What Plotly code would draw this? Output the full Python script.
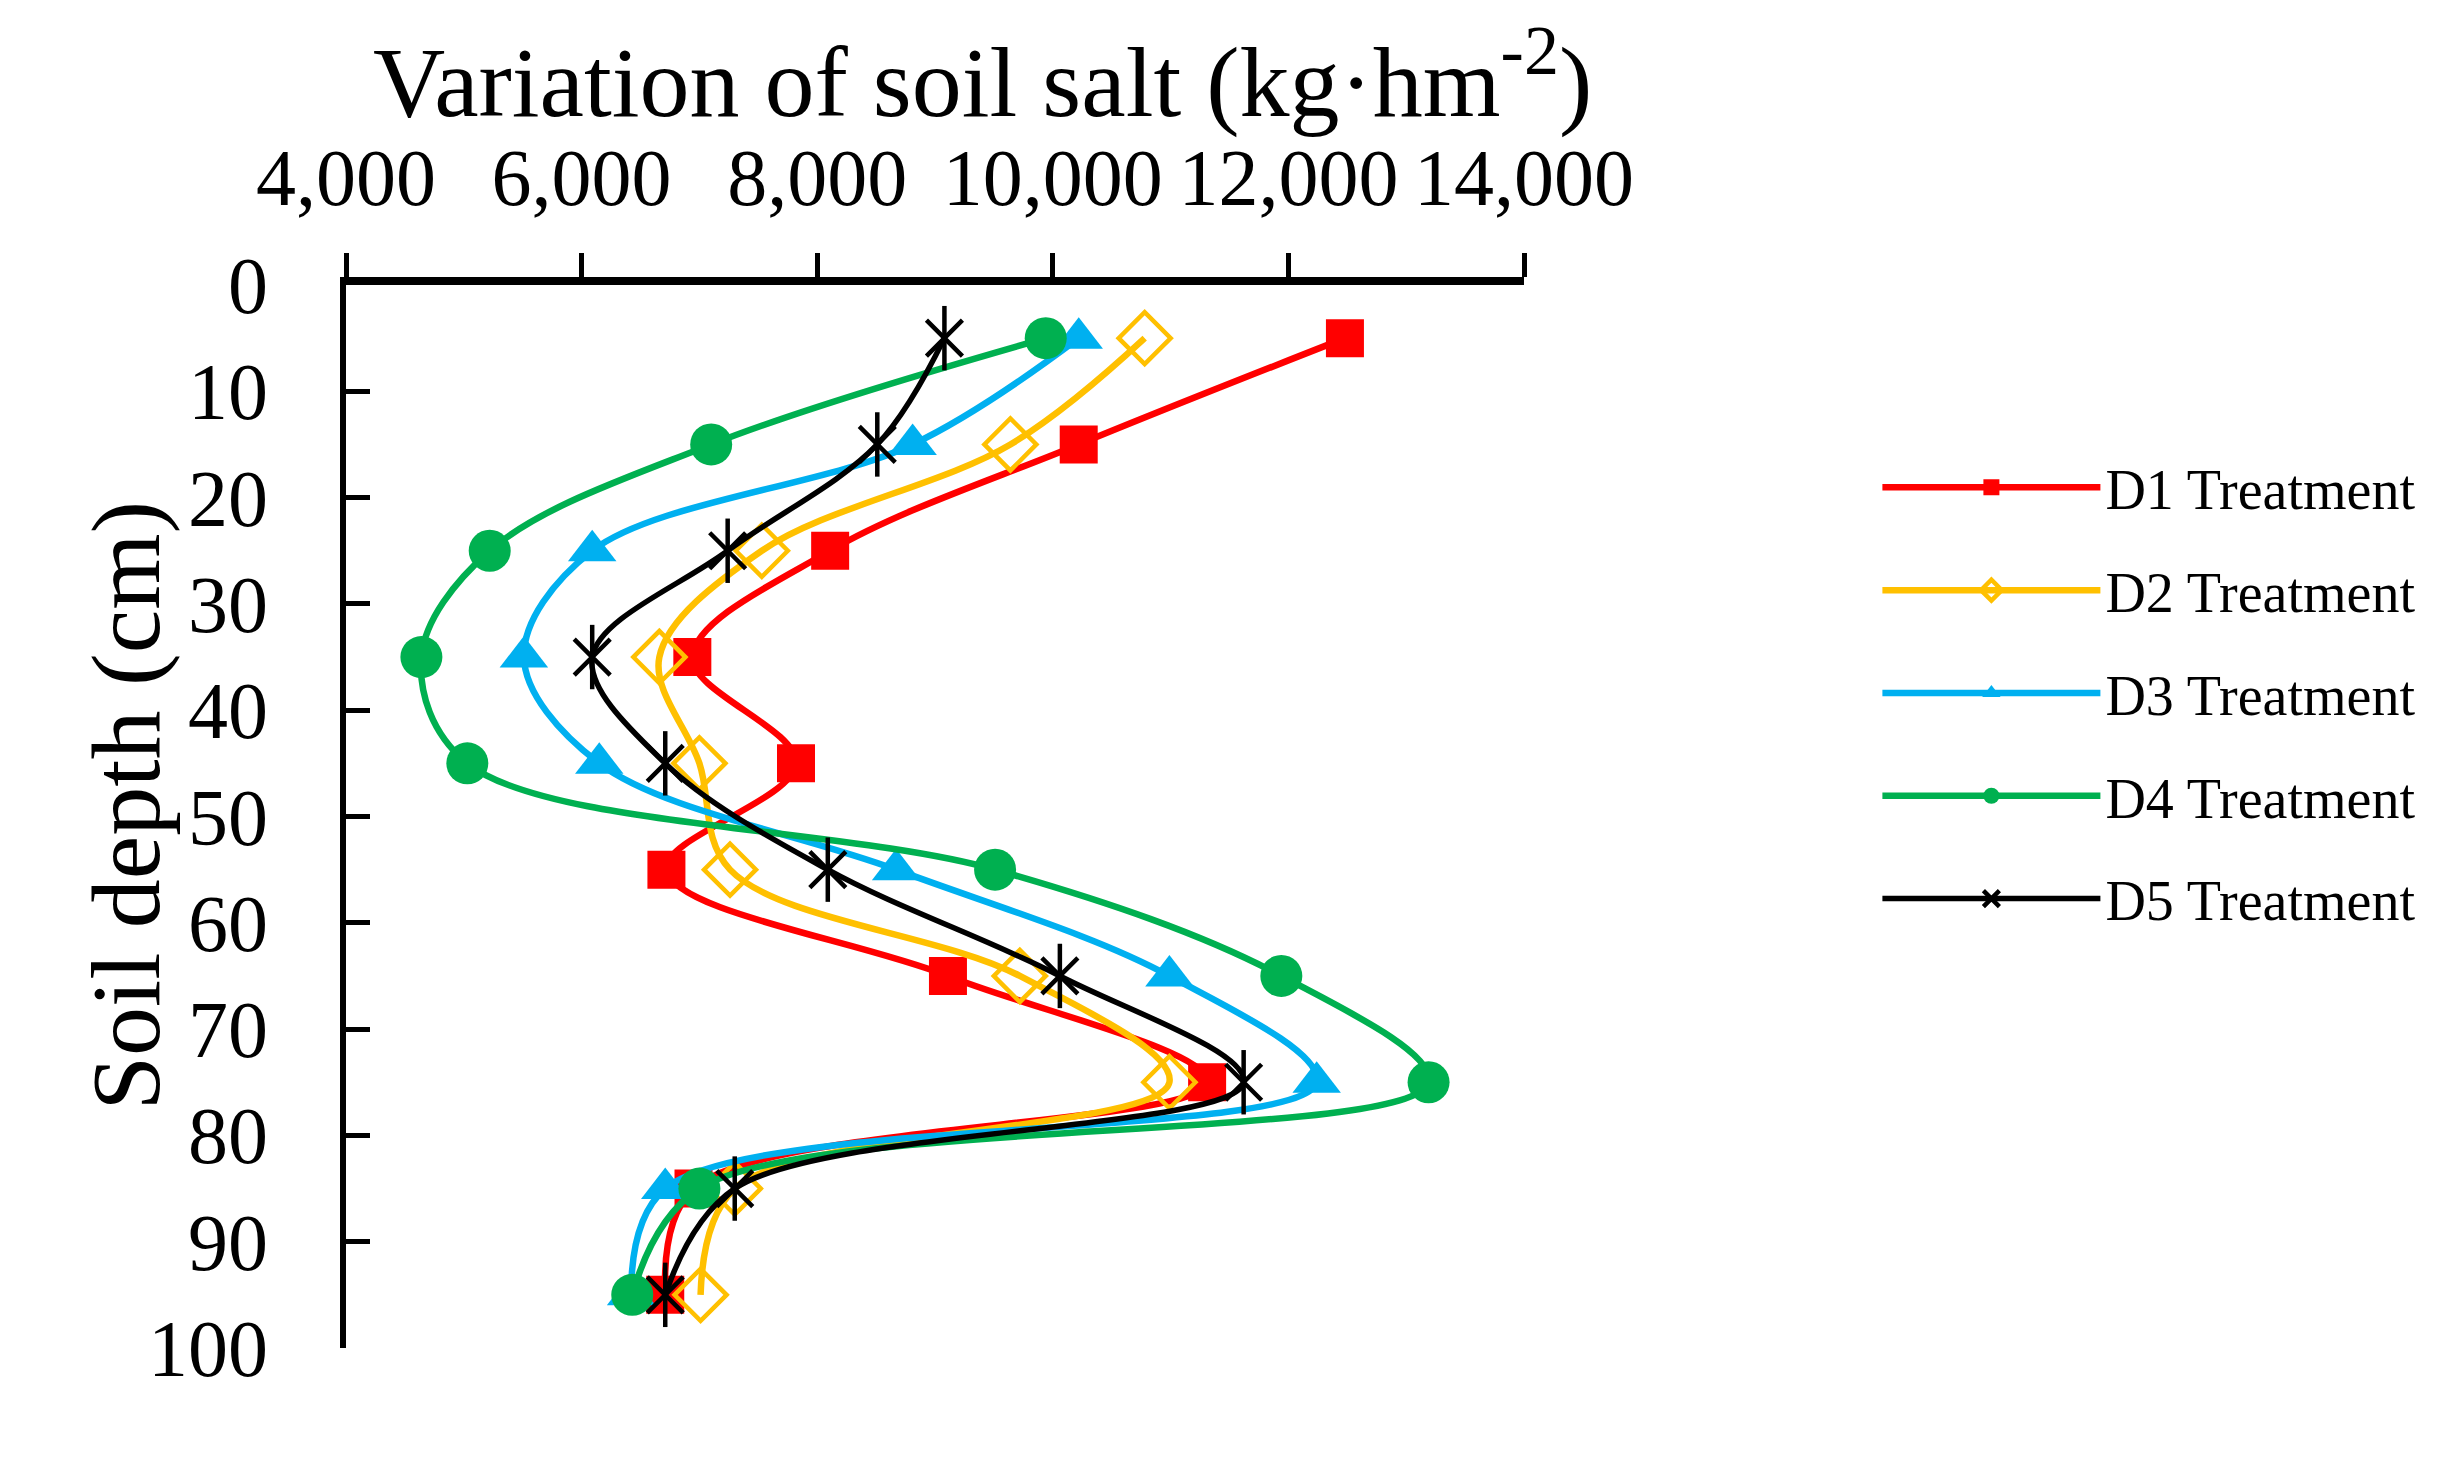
import plotly.graph_objects as go

# soil depth (cm) and salt variation (kg/hm2) per treatment
depth = [5, 15, 25, 35, 45, 55, 65, 75, 85, 95]
d1 = [12480, 10220, 8110, 6940, 7820, 6720, 9110, 11310, 6950, 6710]
d2 = [10780, 9640, 7530, 6660, 7000, 7260, 9720, 10990, 7300, 7010]
d3 = [10220, 8810, 6090, 5510, 6150, 8670, 10990, 12240, 6710, 6420]
d4 = [9940, 7100, 5220, 4640, 5030, 9510, 11940, 13190, 7000, 6430]
d5 = [9080, 8510, 7240, 6090, 6710, 8090, 10060, 11620, 7300, 6710]

names = ["D1 Treatment", "D2 Treatment", "D3 Treatment", "D4 Treatment", "D5 Treatment"]
series = [d1, d2, d3, d4, d5]
colors = ["#FF0000", "#FFC000", "#00B0F0", "#00B050", "#000000"]
symbols = ["square", "diamond-open", "triangle-up", "circle", "x-thin-open"]
sizes = [38, 40, 42, 42, 36]

FONT = "Liberation Serif, Times New Roman, serif"

fig = go.Figure()
for i, (name, vals) in enumerate(zip(names, series)):
    open_marker = symbols[i].endswith("open")
    fig.add_trace(go.Scatter(
        x=vals, y=depth, name=name,
        mode="lines+markers",
        line=dict(color=colors[i], width=6.5 if i < 4 else 5.5, shape="spline", smoothing=1),
        marker=dict(symbol=symbols[i], size=sizes[i], color=colors[i],
                    line=dict(color=colors[i], width=4.5 if open_marker else 0)),
        legendgroup=name,
    ))

# vertical bar of the star marker for D5
fig.add_trace(go.Scatter(
    x=d5, y=depth, mode="markers", showlegend=False,
    marker=dict(symbol="line-ns-open", size=46, color="#000000",
                line=dict(color="#000000", width=4.5)),
    hoverinfo="skip",
))

fig.update_xaxes(
    side="top", range=[4000, 14000], dtick=2000, tickformat=",",
    showline=True, linecolor="black", linewidth=8,
    ticks="outside", ticklen=24, tickwidth=5, tickcolor="black",
    showgrid=False, zeroline=False, ticklabelstandoff=16,
    tickfont=dict(family=FONT, size=80, color="black"),
)
fig.update_yaxes(
    range=[100, 0], dtick=10,
    showline=True, linecolor="black", linewidth=6,
    ticks="inside", ticklen=24, tickwidth=5, tickcolor="black",
    showgrid=False, zeroline=False, ticklabelstandoff=56,
    tickfont=dict(family=FONT, size=80, color="black"),
)

fig.add_annotation(
    text="Variation of soil salt (kg·hm<sup>-2</sup>)",
    xref="paper", yref="paper", x=0.54, y=1.1975,
    xanchor="center", yanchor="middle", showarrow=False,
    font=dict(family=FONT, size=100, color="black"),
)
fig.add_annotation(
    text="Soil depth (cm)", textangle=-90,
    xref="paper", yref="paper", x=-0.187, y=0.51,
    xanchor="center", yanchor="middle", showarrow=False,
    font=dict(family=FONT, size=98, color="black"),
)

fig.update_layout(
    width=2464, height=1460,
    margin=dict(l=338, r=948, t=277, b=120),
    paper_bgcolor="white", plot_bgcolor="white",
    font=dict(family=FONT, color="black"),
    showlegend=True,
    legend=dict(
        x=1.30, y=0.85, xanchor="left", yanchor="top",
        font=dict(family=FONT, size=56, color="black"),
        itemwidth=218, tracegroupgap=27,
        bgcolor="rgba(0,0,0,0)",
    ),
)

fig.write_html("out.html")
